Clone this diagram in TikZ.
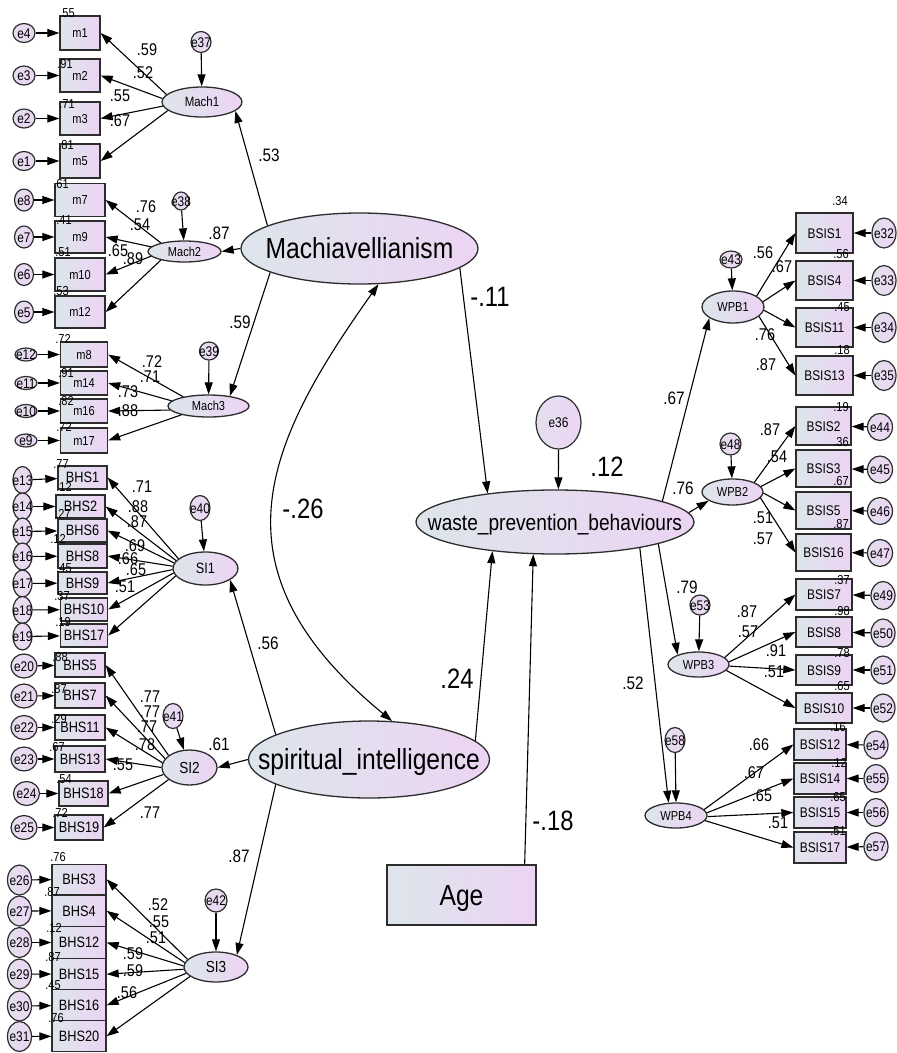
\documentclass[tikz,border=0pt]{standalone}
\usepackage{fontspec}
\setmainfont{Liberation Sans}[FakeStretch=0.85]
\usetikzlibrary{shapes.geometric,arrows.meta}
\definecolor{gl}{RGB}{221,229,235}
\definecolor{gr}{RGB}{236,212,243}
\definecolor{el}{RGB}{228,222,238}
\definecolor{er}{RGB}{236,214,244}
\definecolor{ink}{RGB}{45,45,45}
\newcommand{\fz}[1]{\fontsize{#1}{#1}\selectfont}
\newcommand{\ctxt}[1]{\makebox[0pt]{\raisebox{-0.36em}[0pt][0pt]{#1}}}
\begin{document}
\begin{tikzpicture}[x=1pt,y=-1pt,
 obs/.style={draw=ink,line width=1.3pt,left color=gl,right color=gr,inner sep=0pt,font=\fz{14}},
 lat/.style={ellipse,draw=ink,line width=1.3pt,left color=gl,right color=gr,inner sep=0pt,font=\fz{14}},
 errc/.style={ellipse,draw=ink,line width=1.2pt,left color=el,right color=er,inner sep=0pt,font=\fz{14}},
 box/.style 2 args={obs,minimum width=#1pt,minimum height=#2pt},
 ell/.style 2 args={lat,minimum width=#1pt,minimum height=#2pt},
 erc/.style 2 args={errc,minimum width=#1pt,minimum height=#2pt},
 arr/.style={draw=black,line width=1.1pt,-{Triangle[length=12pt,width=8pt]}},
 ld/.style={font=\fz{17},inner sep=0pt},
 rs/.style={font=\fz{13},inner sep=0pt},
 md/.style={font=\fz{18},inner sep=0pt},
 bg/.style={font=\fz{28},inner sep=0pt},
]
\fill[white] (0,0) rectangle (897,1053);
\useasboundingbox (0,0) rectangle (897,1053);

% ---------- central constructs
\node[ell={237}{71},font=\fz{29}] (Mach) at (359.5,248.5) {\ctxt{Machiavellianism}};
\node[ell={278}{64},font=\fz{22.5}] (wpb) at (555,522) {\ctxt{waste\_prevention\_behaviours}};
\node[erc={45}{53}] (e36) at (558.5,422.5) {\ctxt{e36}};
\node[ell={241}{77},font=\fz{29}] (spir) at (369,759.5) {\ctxt{spiritual\_intelligence}};
\node[box={149}{60},font=\fz{29}] (Age) at (461.5,895) {\ctxt{Age}};

% ---------- Mach1 group
\node[box={40}{34},font=\fz{13}] (m1) at (80,33) {\ctxt{m1}};
\node[box={40}{33},font=\fz{13}] (m2) at (80,75.5) {\ctxt{m2}};
\node[box={40}{33},font=\fz{13}] (m3) at (80,118.5) {\ctxt{m3}};
\node[box={40}{34},font=\fz{13}] (m5) at (80,161) {\ctxt{m5}};
\node[erc={22}{19}] (e4) at (24,33) {\ctxt{e4}};
\node[erc={22}{19}] (e3) at (24,75.5) {\ctxt{e3}};
\node[erc={22}{19}] (e2) at (24,118.5) {\ctxt{e2}};
\node[erc={22}{19}] (e1) at (24,161) {\ctxt{e1}};
\node[ell={80}{30},font=\fz{13.5}] (Mach1) at (202,102) {\ctxt{Mach1}};
\node[erc={20}{21}] (e37) at (201,42) {\ctxt{e37}};

% ---------- Mach2 group
\node[box={50}{33},font=\fz{13}] (m7) at (80,200) {\ctxt{m7}};
\node[box={50}{32},font=\fz{13}] (m9) at (80,237) {\ctxt{m9}};
\node[box={50}{33},font=\fz{13}] (m10) at (80,274.5) {\ctxt{m10}};
\node[box={50}{32},font=\fz{13}] (m12) at (80,312) {\ctxt{m12}};
\node[erc={19}{22}] (e8) at (24,200) {\ctxt{e8}};
\node[erc={19}{22}] (e7) at (24,237) {\ctxt{e7}};
\node[erc={19}{22}] (e6) at (24,274.5) {\ctxt{e6}};
\node[erc={19}{22}] (e5) at (24,312) {\ctxt{e5}};
\node[ell={73}{21},font=\fz{13}] (Mach2) at (184.5,251.5) {\ctxt{Mach2}};
\node[erc={16}{18}] (e38) at (181,201) {\ctxt{e38}};

% ---------- Mach3 group
\node[box={47}{25},font=\fz{13}] (m8) at (84,354.5) {\ctxt{m8}};
\node[box={47}{24},font=\fz{13}] (m14) at (84,383) {\ctxt{m14}};
\node[box={47}{24},font=\fz{13}] (m16) at (84,411) {\ctxt{m16}};
\node[box={47}{25},font=\fz{13}] (m17) at (84,440.5) {\ctxt{m17}};
\node[erc={22}{13}] (e12) at (26,354.5) {\ctxt{e12}};
\node[erc={22}{13}] (e11) at (26,383) {\ctxt{e11}};
\node[erc={22}{13}] (e10) at (26,411) {\ctxt{e10}};
\node[erc={22}{13}] (e9) at (26,440.5) {\ctxt{e9}};
\node[ell={81}{22},font=\fz{13}] (Mach3) at (208.5,406) {\ctxt{Mach3}};
\node[erc={19}{18}] (e39) at (209,351) {\ctxt{e39}};

% ---------- SI1 group
\node[box={49}{23},font=\fz{15}] (BHS1) at (82.5,477.5) {\ctxt{BHS1}};
\node[box={49}{23},font=\fz{15}] (BHS2) at (80.5,506.5) {\ctxt{BHS2}};
\node[box={49}{23},font=\fz{15}] (BHS6) at (82.5,530.5) {\ctxt{BHS6}};
\node[box={49}{24},font=\fz{15}] (BHS8) at (82.5,556) {\ctxt{BHS8}};
\node[box={49}{22},font=\fz{15}] (BHS9) at (82.5,583) {\ctxt{BHS9}};
\node[box={47}{23},font=\fz{15}] (BHS10) at (84,609.5) {\ctxt{BHS10}};
\node[box={47}{23},font=\fz{15}] (BHS17) at (84,635.5) {\ctxt{BHS17}};
\node[erc={19}{27}] (e13) at (22.5,480) {\ctxt{e13}};
\node[erc={19}{27}] (e14) at (22.5,506.5) {\ctxt{e14}};
\node[erc={19}{27}] (e15) at (22.5,531.5) {\ctxt{e15}};
\node[erc={19}{27}] (e16) at (22.5,556.5) {\ctxt{e16}};
\node[erc={19}{27}] (e17) at (22.5,583.5) {\ctxt{e17}};
\node[erc={19}{27}] (e18) at (22.5,610) {\ctxt{e18}};
\node[erc={19}{27}] (e19) at (22.5,636.5) {\ctxt{e19}};
\node[ell={65}{33},font=\fz{15}] (SI1) at (205.5,568.5) {\ctxt{SI1}};
\node[erc={20}{25}] (e40) at (200,508) {\ctxt{e40}};

% ---------- SI2 group
\node[box={50}{24},font=\fz{15}] (BHS5) at (80,665) {\ctxt{BHS5}};
\node[box={50}{25},font=\fz{15}] (BHS7) at (80,695.5) {\ctxt{BHS7}};
\node[box={50}{25},font=\fz{15}] (BHS11) at (80,727.5) {\ctxt{BHS11}};
\node[box={50}{26},font=\fz{15}] (BHS13) at (80,759) {\ctxt{BHS13}};
\node[box={49}{25},font=\fz{15}] (BHS18) at (83.5,793.5) {\ctxt{BHS18}};
\node[box={48}{25},font=\fz{15}] (BHS19) at (79,827.5) {\ctxt{BHS19}};
\node[erc={26}{24}] (e20) at (24,666) {\ctxt{e20}};
\node[erc={26}{24}] (e21) at (24,696) {\ctxt{e21}};
\node[erc={26}{24}] (e22) at (24,727.5) {\ctxt{e22}};
\node[erc={26}{24}] (e23) at (24,759) {\ctxt{e23}};
\node[erc={26}{24}] (e24) at (26.5,793.5) {\ctxt{e24}};
\node[erc={26}{24}] (e25) at (24,827.5) {\ctxt{e25}};
\node[ell={55}{35},font=\fz{16}] (SI2) at (189.5,767.5) {\ctxt{SI2}};
\node[erc={20}{25}] (e41) at (173,716) {\ctxt{e41}};

% ---------- SI3 group
\node[box={54}{30},font=\fz{15}] (BHS3) at (79,879.3) {\ctxt{BHS3}};
\node[box={54}{31.5},font=\fz{15}] (BHS4) at (79,910.8) {\ctxt{BHS4}};
\node[box={54}{31.5},font=\fz{15}] (BHS12) at (79,942.5) {\ctxt{BHS12}};
\node[box={54}{31.5},font=\fz{15}] (BHS15) at (79,974.2) {\ctxt{BHS15}};
\node[box={54}{31}] [font=\fz{15}] (BHS16) at (79,1005.3) {\ctxt{BHS16}};
\node[box={54}{31},font=\fz{15}] (BHS20) at (79,1036.2) {\ctxt{BHS20}};
\node[erc={24}{30}] (e26) at (19.5,880) {\ctxt{e26}};
\node[erc={24}{30}] (e27) at (19.5,911) {\ctxt{e27}};
\node[erc={24}{30}] (e28) at (19.5,942.5) {\ctxt{e28}};
\node[erc={24}{30}] (e29) at (19.5,974) {\ctxt{e29}};
\node[erc={24}{30}] (e30) at (19.5,1006) {\ctxt{e30}};
\node[erc={24}{30}] (e31) at (19.5,1036.5) {\ctxt{e31}};
\node[ell={64}{30},font=\fz{16}] (SI3) at (216,967) {\ctxt{SI3}};
\node[erc={22}{23}] (e42) at (216,900.5) {\ctxt{e42}};

% ---------- WPB1 group
\node[box={57}{40}] (BSIS1) at (824.5,233) {\ctxt{BSIS1}};
\node[box={57}{39}] (BSIS4) at (824.5,280.5) {\ctxt{BSIS4}};
\node[box={57}{39}] (BSIS11) at (824.5,327.5) {\ctxt{BSIS11}};
\node[box={57}{39}] (BSIS13) at (824.5,375.5) {\ctxt{BSIS13}};
\node[erc={24}{30}] (e32) at (884,233) {\ctxt{e32}};
\node[erc={24}{30}] (e33) at (884,280.5) {\ctxt{e33}};
\node[erc={24}{30}] (e34) at (884,327.5) {\ctxt{e34}};
\node[erc={24}{30}] (e35) at (884,375.5) {\ctxt{e35}};
\node[ell={62}{32},font=\fz{13}] (WPB1) at (733,307) {\ctxt{WPB1}};
\node[erc={22}{17}] (e43) at (731,259.5) {\ctxt{e43}};

% ---------- WPB2 group
\node[box={55}{38}] (BSIS2) at (823.5,426) {\ctxt{BSIS2}};
\node[box={55}{37}] (BSIS3) at (823.5,468.5) {\ctxt{BSIS3}};
\node[box={55}{37}] (BSIS5) at (823.5,510.5) {\ctxt{BSIS5}};
\node[box={55}{37}] (BSIS16) at (823.5,552.5) {\ctxt{BSIS16}};
\node[erc={25}{27}] (e44) at (880,427) {\ctxt{e44}};
\node[erc={25}{27}] (e45) at (880,469.5) {\ctxt{e45}};
\node[erc={25}{27}] (e46) at (880,511) {\ctxt{e46}};
\node[erc={25}{27}] (e47) at (880,553) {\ctxt{e47}};
\node[ell={61}{26},font=\fz{13}] (WPB2) at (732.5,492) {\ctxt{WPB2}};
\node[erc={21}{22}] (e48) at (730.5,444) {\ctxt{e48}};

% ---------- WPB3 group
\node[box={56}{31}] (BSIS7) at (824,594.5) {\ctxt{BSIS7}};
\node[box={56}{30}] (BSIS8) at (824,632) {\ctxt{BSIS8}};
\node[box={56}{30}] (BSIS9) at (824,670) {\ctxt{BSIS9}};
\node[box={56}{30}] (BSIS10) at (824,708) {\ctxt{BSIS10}};
\node[erc={24}{28}] (e49) at (883,595.5) {\ctxt{e49}};
\node[erc={24}{28}] (e50) at (883,633) {\ctxt{e50}};
\node[erc={24}{28}] (e51) at (883,670) {\ctxt{e51}};
\node[erc={24}{28}] (e52) at (883,708) {\ctxt{e52}};
\node[ell={61}{25},font=\fz{13}] (WPB3) at (698.5,664.5) {\ctxt{WPB3}};
\node[erc={20}{20}] (e53) at (700,605) {\ctxt{e53}};

% ---------- WPB4 group
\node[box={52}{31}] (BSIS12) at (820,744.5) {\ctxt{BSIS12}};
\node[box={52}{31}] (BSIS14) at (820,778.5) {\ctxt{BSIS14}};
\node[box={52}{31}] (BSIS15) at (820,812.5) {\ctxt{BSIS15}};
\node[box={52}{31}] (BSIS17) at (820,847.5) {\ctxt{BSIS17}};
\node[erc={24}{28}] (e54) at (876,745) {\ctxt{e54}};
\node[erc={24}{28}] (e55) at (876,778.5) {\ctxt{e55}};
\node[erc={24}{28}] (e56) at (876,812.5) {\ctxt{e56}};
\node[erc={24}{28}] (e57) at (876,846.5) {\ctxt{e57}};
\node[ell={62}{25},font=\fz{13}] (WPB4) at (676,815.5) {\ctxt{WPB4}};
\node[erc={20}{25}] (e58) at (675,740) {\ctxt{e58}};

% ---------- error arrows
\foreach \e/\t in {e4/m1,e3/m2,e2/m3,e1/m5,e8/m7,e7/m9,e6/m10,e5/m12,e12/m8,e11/m14,e10/m16,e9/m17,
  e13/BHS1,e14/BHS2,e15/BHS6,e16/BHS8,e17/BHS9,e18/BHS10,e19/BHS17,
  e20/BHS5,e21/BHS7,e22/BHS11,e23/BHS13,e24/BHS18,e25/BHS19,
  e26/BHS3,e27/BHS4,e28/BHS12,e29/BHS15,e30/BHS16,e31/BHS20,
  e32/BSIS1,e33/BSIS4,e34/BSIS11,e35/BSIS13,e44/BSIS2,e45/BSIS3,e46/BSIS5,e47/BSIS16,
  e49/BSIS7,e50/BSIS8,e51/BSIS9,e52/BSIS10,e54/BSIS12,e55/BSIS14,e56/BSIS15,e57/BSIS17,
  e37/Mach1,e38/Mach2,e39/Mach3,e40/SI1,e41/SI2,e42/SI3,e43/WPB1,e48/WPB2,e53/WPB3}
  \draw[arr] (\e) -- (\t);
\draw[arr] (e58) -- (WPB4.north);

% ---------- loadings (left)
\foreach \a/\t in {168/m1,175/m2,186/m3,194/m5} \draw[arr] (Mach1.\a) -- (\t.east);
\foreach \a/\t in {160/m7,172/m9,188/m10,200/m12} \draw[arr] (Mach2.\a) -- (\t.east);
\foreach \a/\t in {160/m8,172/m14,186/m16,198/m17} \draw[arr] (Mach3.\a) -- (\t.east);
\foreach \a/\t in {160/BHS1,165/BHS2,170/BHS6,176/BHS8,182/BHS9,188/BHS10,194/BHS17} \draw[arr] (SI1.\a) -- (\t.east);
\foreach \a/\t in {150/BHS5,160/BHS7,170/BHS11,180/BHS13,195/BHS18,210/BHS19} \draw[arr] (SI2.\a) -- (\t.east);
\foreach \a/\t in {165/BHS3,172/BHS4,178/BHS12,184/BHS15,192/BHS16,200/BHS20} \draw[arr] (SI3.\a) -- (\t.east);
% ---------- loadings (right)
\foreach \a/\t in {25/BSIS1,10/BSIS4,-6/BSIS11,-20/BSIS13} \draw[arr] (WPB1.\a) -- (\t.west);
\foreach \a/\t in {24/BSIS2,11/BSIS3,-2/BSIS5,-12/BSIS16} \draw[arr] (WPB2.\a) -- (\t.west);
\foreach \a/\t in {15/BSIS7,5/BSIS8,-3/BSIS9,-12/BSIS10} \draw[arr] (WPB3.\a) -- (\t.west);
\foreach \a/\t in {12/BSIS12,5/BSIS14,-2/BSIS15,-10/BSIS17} \draw[arr] (WPB4.\a) -- (\t.west);

% ---------- structural paths
\draw[arr] (Mach.166) -- (Mach1.-15);
\draw[arr] (Mach.west) -- (Mach2.east);
\draw[arr] (Mach.195) -- (Mach3.25);
\draw[arr] (Mach.-11) -- (wpb.157);
\draw[arr] (e36) -- (wpb.84);
\draw[arr] (spir.10) -- (wpb.205);
\draw[arr] ([xshift=-12pt]Age.north east) -- (wpb.236);
\draw[arr] (spir.165) -- (SI1.-25);
\draw[arr] (spir.west) -- (SI2.east);
\draw[arr] (spir.195) -- (SI3.30);
\draw[arr] (wpb.11) -- (WPB1.205);
\draw[arr] (wpb.4) -- (WPB2.200);
\draw[arr] (wpb.-12) -- (WPB3.155);
\draw[arr] (wpb.-17) -- (WPB4.120);
\draw[line width=1.1pt,{Triangle[length=12pt,width=8pt]}-{Triangle[length=12pt,width=8pt]}]
  (Mach.-62) .. controls (265,444) and (207,569) .. (spir.59);

% ---------- labels: Mach1
\node[ld] at (147,50) {.59};
\node[ld] at (143,73) {.52};
\node[ld] at (120,96) {.55};
\node[ld] at (120,121) {.67};
\node[rs] at (67,13) {.55};
\node[rs] at (65,64) {.91};
\node[rs] at (67,104) {.71};
\node[rs] at (66,145) {.81};
\node[md] at (269,155) {.53};
% Mach2
\node[ld] at (146,207) {.76};
\node[ld] at (140,225) {.54};
\node[ld] at (118,251) {.65};
\node[ld] at (133,259) {.89};
\node[md] at (219,233) {.87};
\node[rs] at (61,184) {.61};
\node[rs] at (64,220) {.41};
\node[rs] at (63,252) {.51};
\node[rs] at (61,291) {.53};
\node[md] at (240,322) {.59};
% Mach3
\node[ld] at (152,362) {.72};
\node[ld] at (150,377) {.71};
\node[ld] at (128,392) {.73};
\node[ld] at (128,411) {.88};
\node[rs] at (63,339) {.72};
\node[rs] at (66,373) {.91};
\node[rs] at (66,401) {.82};
\node[rs] at (64,427) {.72};
% SI1
\node[ld] at (142,487) {.71};
\node[ld] at (138,507) {.88};
\node[ld] at (137,522) {.87};
\node[ld] at (135,546) {.69};
\node[ld] at (128,559) {.66};
\node[ld] at (136,570) {.65};
\node[ld] at (125,587) {.51};
\node[rs] at (61,464) {.77};
\node[rs] at (64,487) {.12};
\node[rs] at (63,514) {.27};
\node[rs] at (58,539) {.12};
\node[rs] at (64,568) {.45};
\node[rs] at (62,596) {.37};
\node[rs] at (63,622) {.19};
\node[md] at (268,643) {.56};
% SI2
\node[ld] at (150,697) {.77};
\node[ld] at (150,712) {.77};
\node[ld] at (147,727) {.77};
\node[ld] at (145,745) {.78};
\node[ld] at (123,765) {.55};
\node[ld] at (150,813) {.77};
\node[rs] at (60,657) {.88};
\node[rs] at (59,689) {.87};
\node[rs] at (59,719) {.29};
\node[rs] at (57,747) {.67};
\node[rs] at (64,779) {.54};
\node[rs] at (60,813) {.72};
\node[md] at (219,744) {.61};
% SI3
\node[ld] at (158,905) {.52};
\node[ld] at (159,922) {.55};
\node[ld] at (156,938) {.51};
\node[ld] at (133,954) {.59};
\node[ld] at (133,971) {.59};
\node[ld] at (127,993) {.56};
\node[rs] at (58,857) {.76};
\node[rs] at (52,892) {.87};
\node[rs] at (54,928) {.12};
\node[rs] at (53,957) {.87};
\node[rs] at (53,985) {.45};
\node[rs] at (56,1018) {.76};
\node[md] at (239,856) {.87};
% WPB1
\node[ld] at (763,253) {.56};
\node[ld] at (782,267) {.67};
\node[ld] at (765,335) {.76};
\node[ld] at (766,365) {.87};
\node[rs] at (840,201) {.34};
\node[rs] at (841,254) {.56};
\node[rs] at (842,307) {.45};
\node[rs] at (842,350) {.18};
\node[md] at (674,398) {.67};
% WPB2
\node[ld] at (770,430) {.87};
\node[ld] at (777,457) {.54};
\node[ld] at (763,518) {.51};
\node[ld] at (763,539) {.57};
\node[rs] at (841,407) {.19};
\node[rs] at (841,442) {.36};
\node[rs] at (841,481) {.67};
\node[rs] at (841,524) {.87};
\node[md] at (683,488) {.76};
% WPB3
\node[ld] at (747,612) {.87};
\node[ld] at (748,632) {.57};
\node[ld] at (776,651) {.91};
\node[ld] at (774,672) {.51};
\node[rs] at (842,580) {.37};
\node[rs] at (842,611) {.98};
\node[rs] at (842,653) {.78};
\node[rs] at (842,686) {.65};
\node[md] at (687,587) {.79};
% WPB4
\node[ld] at (759,745) {.66};
\node[ld] at (754,773) {.67};
\node[ld] at (762,796) {.65};
\node[ld] at (778,823) {.51};
\node[rs] at (838,727) {.16};
\node[rs] at (839,763) {.12};
\node[rs] at (838,797) {.65};
\node[rs] at (838,831) {.51};
\node[md] at (633,683) {.52};
% structural
\node[bg] at (490,297) {-.11};
\node[bg] at (607,467) {.12};
\node[bg] at (303,509) {-.26};
\node[bg] at (457,679) {.24};
\node[bg] at (553,821) {-.18};
\end{tikzpicture}
\end{document}
